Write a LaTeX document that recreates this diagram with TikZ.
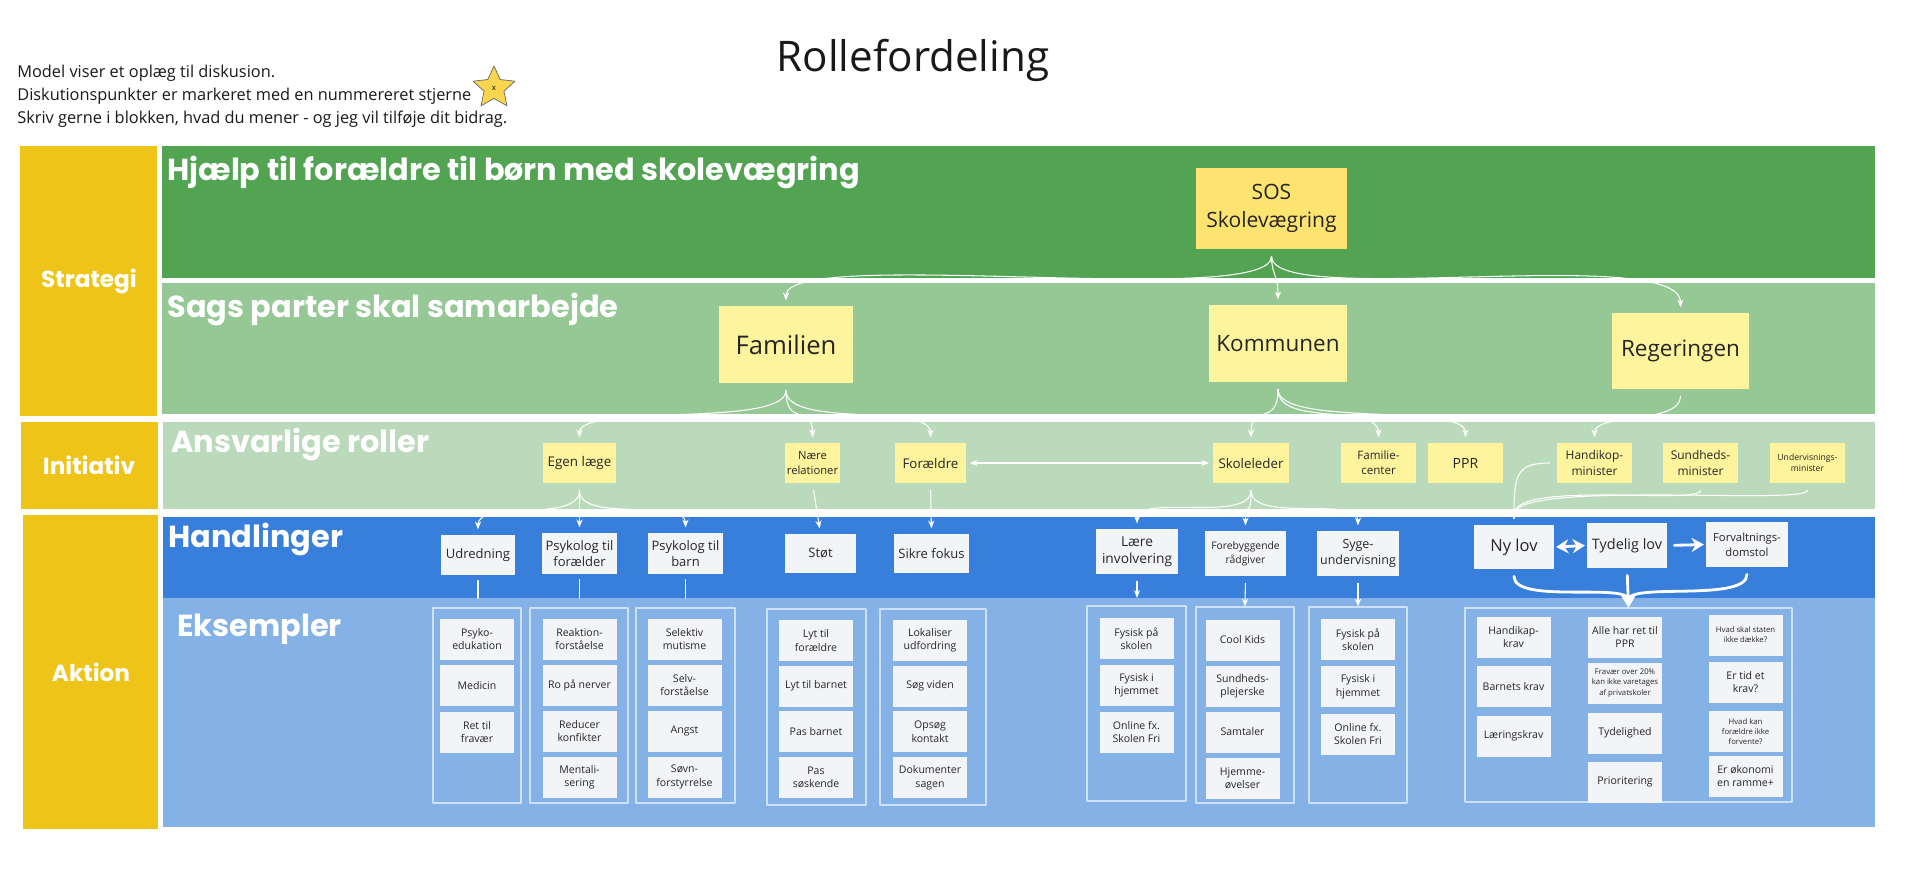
\documentclass[tikz,border=0pt]{standalone}
\usepackage{fontspec}
\setmainfont{Open Sans}
\newfontfamily\bandfont{Poppins}
\usetikzlibrary{arrows.meta,shapes.geometric}
\definecolor{stratY}{RGB}{238,196,24}
\definecolor{grA}{RGB}{82,163,82}
\definecolor{grB}{RGB}{149,200,149}
\definecolor{grC}{RGB}{187,218,187}
\definecolor{blA}{RGB}{55,127,218}
\definecolor{blB}{RGB}{133,178,230}
\definecolor{noteY}{RGB}{255,244,158}
\definecolor{sosY}{RGB}{253,228,112}
\definecolor{boxW}{RGB}{243,244,247}
\definecolor{starY}{RGB}{250,214,80}
\newcommand{\pxu}{0.02cm}
\begin{document}
\begin{tikzpicture}[x=0.02cm, y=-0.02cm, line cap=round, line join=round,
    >={Stealth[length=4.5pt,width=3.5pt]},
    sz/.style 2 args={minimum width=#1*\pxu, minimum height=#2*\pxu},
    note/.style={fill=noteY, inner sep=0pt, align=center, text=black!85, font=\fontsize{7.6}{9.4}\selectfont},
    box/.style={fill=boxW, inner sep=0pt, align=center, text=black!85, font=\fontsize{7.4}{9.2}\selectfont},
    item/.style={box, sz={74}{41}, font=\fontsize{6}{7.6}\selectfont},
    small/.style={font=\fontsize{4.4}{5.8}\selectfont},
    grp/.style={draw=white, draw opacity=0.6, line width=0.6pt, inner sep=0pt},
    link/.style={draw=white, line width=0.6pt, ->, shorten <=4pt, shorten >=3pt},
    plain/.style={draw=white, line width=0.6pt, shorten <=3pt},
    fat/.style={draw=white, line width=1.6pt, -{Stealth[length=7pt,width=8pt]}, shorten <=4pt},
    bandtitle/.style={anchor=west, inner sep=0pt, text=white, font=\bandfont\bfseries\fontsize{17.3}{20}\selectfont},
    side/.style={text=white, font=\bandfont\bfseries\fontsize{13.2}{15}\selectfont}]
\useasboundingbox (0,0) rectangle (1920,878);
\path (0,598) coordinate (ekstop);

% header
\node[font=\fontsize{24}{29}\selectfont, text=black!90] (title) at (913,60) {Rollefordeling};
\node[anchor=west, inner sep=0pt, align=left, text=black!90, font=\fontsize{9.3}{13.1}\selectfont] (intro) at (17,96)
  {Model viser et oplæg til diskusion.\\Diskutionspunkter er markeret med en nummereret stjerne\\Skriv gerne i blokken, hvad du mener - og jeg vil tilføje dit bidrag.};
\node[star, star points=5, star point ratio=2.1, fill=starY, draw=black!60, line width=0.4pt,
  minimum size=44*\pxu, inner sep=0pt, font=\fontsize{4.5}{4.5}\selectfont] (star) at (494,88) {x};

% bands
\fill[stratY] (20,146) rectangle (157,416);
\fill[stratY] (21,422) rectangle (158,509);
\fill[stratY] (23,515) rectangle (158,829);
\fill[grA] (162,146) rectangle (1875,278);
\fill[grB] (162,283) rectangle (1875,414);
\fill[grC] (163,422) rectangle (1875,509);
\fill[blA] (163,517) rectangle (1875,598);
\fill[blB] (163,598) rectangle (1875,827);

\node[side] (lstrat) at (89,281) {Strategi};
\node[side] (linit) at (89,465) {Initiativ};
\node[side] (lakt) at (91,672) {Aktion};

\node[bandtitle] (t1) at (167,173) {Hjælp til forældre til børn med skolevægring};
\node[bandtitle] (t2) at (167,310) {Sags parter skal samarbejde};
\node[bandtitle] (t3) at (171,445) {Ansvarlige roller};
\node[bandtitle] (t4) at (168,540) {Handlinger};
\node[bandtitle] (t5) at (177,629) {Eksempler};

% strategi
\node[note, sz={151}{81}, fill=sosY, font=\fontsize{12}{16}\selectfont] (sos) at (1271.5,208.5) {SOS\\Skolevægring};
\node[note, sz={134}{77}, font=\fontsize{14.6}{17}\selectfont] (fam) at (786,344.5) {Familien};
\node[note, sz={138}{77}, font=\fontsize{12.8}{15}\selectfont] (kom) at (1278,343.5) {Kommunen};
\node[note, sz={137}{76}, font=\fontsize{12.8}{15}\selectfont] (reg) at (1680.5,351) {Regeringen};

% initiativ
\node[note, sz={73}{40}] (egen) at (579.5,463) {Egen læge};
\node[note, sz={55}{40}, font=\fontsize{6.4}{8.2}\selectfont] (naere) at (812.5,463) {Nære\\relationer};
\node[note, sz={71}{40}] (foraeldre) at (930.5,463) {Forældre};
\node[note, sz={76}{40}] (skole) at (1251,463) {Skoleleder};
\node[note, sz={75}{40}, font=\fontsize{6.6}{8.6}\selectfont] (famc) at (1378.5,463) {Familie-\\center};
\node[note, sz={75}{40}, font=\fontsize{8}{10}\selectfont] (ppr) at (1465.5,463) {PPR};
\node[note, sz={75}{40}, font=\fontsize{6.8}{8.8}\selectfont] (handi) at (1594.5,463) {Handikop-\\minister};
\node[note, sz={75}{40}, font=\fontsize{6.8}{8.8}\selectfont] (sund) at (1700.5,463) {Sundheds-\\minister};
\node[note, sz={75}{40}, font=\fontsize{4.9}{6.4}\selectfont] (underv) at (1807.5,463) {Undervisnings-\\minister};

% handlinger
\node[box, sz={74}{40}] (udr) at (478,555) {Udredning};
\node[box, sz={75}{41}] (psyf) at (579.5,553.5) {Psykolog til\\forælder};
\node[box, sz={75}{41}] (psyb) at (685.5,553.5) {Psykolog til\\barn};
\node[box, sz={71}{39}] (stoet) at (820.5,553.5) {Støt};
\node[box, sz={75}{39}] (sikre) at (931.5,553.5) {Sikre fokus};
\node[box, sz={82}{45}, font=\fontsize{7.8}{9.6}\selectfont] (laere) at (1137,551.5) {Lære\\involvering};
\node[box, sz={81}{45}, font=\fontsize{5.9}{8}\selectfont] (foreb) at (1245.5,553.5) {Forebyggende\\rådgiver};
\node[box, sz={82}{45}, font=\fontsize{7.1}{9.2}\selectfont] (syge) at (1358,553.5) {Syge-\\undervisning};
\node[box, sz={80}{44}, font=\fontsize{9.4}{11}\selectfont] (nylov) at (1514,547) {Ny lov};
\node[box, sz={80}{45}, font=\fontsize{8.2}{10}\selectfont] (tydelig) at (1627,545.5) {Tydelig lov};
\node[box, sz={82}{45}, font=\fontsize{6.4}{8.4}\selectfont] (forv) at (1747,544.5) {Forvaltnings-\\domstol};

% eksempler
\node[grp, sz={88}{195}] (g1) at (477,705.5) {};
\node[grp, sz={98}{195}] (g2) at (579,705.5) {};
\node[grp, sz={99}{195}] (g3) at (685.5,705.5) {};
\node[grp, sz={99}{196}] (g4) at (816.5,707) {};
\node[grp, sz={106}{196}] (g5) at (933,707) {};
\node[grp, sz={99}{195}] (g6) at (1136.5,703.5) {};
\node[grp, sz={98}{196}] (g7) at (1245,705) {};
\node[grp, sz={98}{196}] (g8) at (1358,705) {};
\node[grp, sz={327}{194}] (g9) at (1628.5,705) {};

\foreach \t [count=\i from 0] in {Psyko-\\edukation, Medicin, Ret til\\fravær}
  \node[item] (g1-\i) at (477,639+46.5*\i) {\t};
\foreach \t [count=\i from 0] in {Reaktion-\\forståelse, Ro på nerver, Reducer\\konfikter, Mentali-\\sering}
  \node[item] (g2-\i) at (579.5,639+46*\i) {\t};
\foreach \t [count=\i from 0] in {Selektiv\\mutisme, Selv-\\forståelse, Angst, Søvn-\\forstyrrelse}
  \node[item] (g3-\i) at (684.5,639+46*\i) {\t};
\foreach \t [count=\i from 0] in {Lyt til\\forældre, Lyt til barnet, Pas barnet, Pas\\søskende}
  \node[item] (g4-\i) at (816,640.5+45.7*\i) {\t};
\foreach \t [count=\i from 0] in {Lokaliser\\udfordring, Søg viden, Opsøg\\kontakt, Dokumenter\\sagen}
  \node[item] (g5-\i) at (930,640.5+45.7*\i) {\t};
\foreach \t [count=\i from 0] in {Fysisk på\\skolen, Fysisk i\\hjemmet, Online fx.\\Skolen Fri}
  \node[item] (g6-\i) at (1136.5,638.5+46.8*\i) {\t};
\foreach \t [count=\i from 0] in {Cool Kids, Sundheds-\\plejerske, Samtaler, Hjemme-\\øvelser}
  \node[item] (g7-\i) at (1242.5,640+46*\i) {\t};
\foreach \t [count=\i from 0] in {Fysisk på\\skolen, Fysisk i\\hjemmet, Online fx.\\Skolen Fri}
  \node[item] (g8-\i) at (1358,639.5+47.3*\i) {\t};

\node[item] (k1) at (1513.5,637) {Handikap-\\krav};
\node[item] (k2) at (1513.5,686.5) {Barnets krav};
\node[item] (k3) at (1513.5,736) {Læringskrav};
\node[item] (p1) at (1625,637) {Alle har ret til\\PPR};
\node[item, small] (p2) at (1625,683) {Fravær over 20\%\\kan ikke varetages\\af privatskoler};
\node[item] (p3) at (1625,733) {Tydelighed};
\node[item] (p4) at (1625,782) {Prioritering};
\node[item, small] (q1) at (1745.5,635) {Hvad skal staten\\ikke dække?};
\node[item] (q2) at (1745.5,682) {Er tid et\\krav?};
\node[item, small] (q3) at (1745.5,731.5) {Hvad kan\\forældre ikke\\forvente?};
\node[item] (q4) at (1745.5,776) {Er økonomi\\en ramme+};

% connectors
\draw[link] (sos.south) .. controls +(0,60) and +(0,-60) .. (fam.north);
\draw[link] (sos.south) .. controls +(0,25) and +(0,-30) .. (kom.north);
\draw[link] (sos.south) .. controls +(0,60) and +(0,-70) .. (reg.north);

\foreach \u in {egen,naere,foraeldre}
  \draw[link] (fam.south) .. controls +(0,45) and +(0,-40) .. (\u.north);
\foreach \u in {skole,famc,ppr}
  \draw[link] (kom.south) .. controls +(0,45) and +(0,-40) .. (\u.north);
\draw[link] (reg.south) .. controls +(0,35) and +(0,-30) .. (handi.north);
\draw[link, <->, shorten <=2pt, shorten >=2pt] (foraeldre.east) -- (skole.west);

\foreach \u in {udr,psyf,psyb}
  \draw[link] (egen.south) .. controls +(0,40) and +(0,-35) .. (\u.north);
\draw[link] (naere.south) -- (stoet.north);
\draw[link] (foraeldre.south) -- (sikre.north);
\foreach \u in {laere,foreb,syge}
  \draw[link] (skole.south) .. controls +(0,40) and +(0,-35) .. (\u.north);
\draw[link] (handi.west) .. controls +(-40,0) and +(0,-50) .. (nylov.north);
\draw[link] (sund.south) .. controls +(0,22) and +(0,-45) .. (nylov.north);
\draw[link] (underv.south) .. controls +(0,22) and +(0,-45) .. (nylov.north);

\draw[fat, {Stealth[length=7pt,width=8pt]}-{Stealth[length=7pt,width=8pt]}, shorten <=1pt, shorten >=1pt] (nylov.east) -- (tydelig.west);
\draw[fat, shorten >=1pt] (tydelig.east) -- (forv.west);
\draw[fat] (nylov.south) .. controls +(0,35) and +(0,-25) .. (g9.north);
\draw[fat] (tydelig.south) -- (g9.north);
\draw[fat] (forv.south) .. controls +(0,35) and +(0,-25) .. (g9.north);

\foreach \u in {udr,psyf,psyb}
  \draw[plain] (\u.south) -- (\u.south |- ekstop);
\draw[link, shorten >=0pt] (laere.south) -- (laere.south |- ekstop);
\draw[link, shorten >=0pt] (foreb.south) -- (g7.north);
\draw[link, shorten >=0pt] (syge.south) -- (g8.north);
\end{tikzpicture}
\end{document}
